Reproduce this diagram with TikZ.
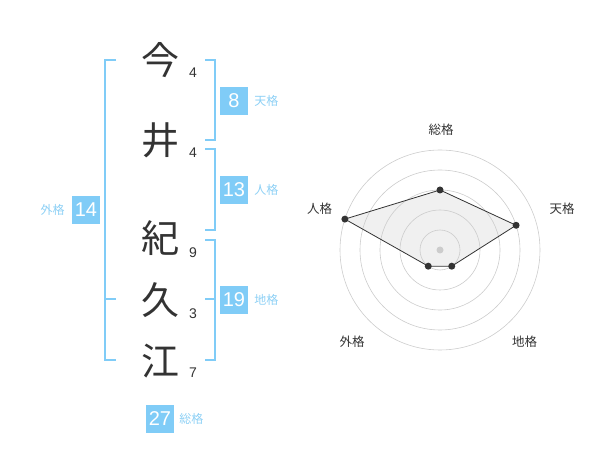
\documentclass[tikz,border=0pt]{standalone}
\usepackage{fontspec}
\setmainfont{Liberation Sans}
\newfontfamily\jp{Noto Sans CJK JP}
\usepackage{tikz}
\usepackage{xcolor}
\usetikzlibrary{
    calc,
    positioning
}
\definecolor{skyb}{HTML}{80CCF7}
\definecolor{labb}{HTML}{8DD0F5}
\definecolor{ink}{HTML}{333333}
\tikzset{
    kanji/.style={font=\jp\fontsize{38}{38}\selectfont, text=ink, inner sep=0pt},
    strokes/.style={font=\fontsize{14}{14}\selectfont, text=ink, inner sep=0pt},
    numbox/.style={fill=skyb, text=white, minimum size=28pt, inner sep=0pt, font=\fontsize{20}{20}\selectfont},
    kaku/.style={font=\jp\fontsize{12}{12}\selectfont, text=labb, inner sep=0pt},
    brk/.style={draw=skyb, line width=1.8pt},
    ring/.style={draw=black!20, line width=0.6pt},
    dot/.style={circle, fill=ink, inner sep=0pt, minimum size=7pt},
    axlabel/.style={font=\jp\fontsize{12.5}{12.5}\selectfont, text=ink, inner sep=0pt}
}
% right bracket: x, top, bottom
\newcommand{\rbrk}[3]{
    \draw[brk] ({#1-10}, #2) -- (#1, #2) -- (#1, #3) -- ({#1-10}, #3);
}

\begin{document}
\begin{tikzpicture}[x=1pt, y=-1pt]
    \useasboundingbox (0,0) rectangle (600,470);
    % name
    \node[kanji] (k1) at (160,60) {今};
    \node[kanji] (k2) at (160,140) {井};
    \node[kanji] (k3) at (160,238) {紀};
    \node[kanji] (k4) at (160,300) {久};
    \node[kanji] (k5) at (160,361) {江};
    \node[strokes] (s1) at (193,73) {4};
    \node[strokes] (s2) at (193,153) {4};
    \node[strokes] (s3) at (193,253) {9};
    \node[strokes] (s4) at (193,314) {3};
    \node[strokes] (s5) at (193,373) {7};
    % brackets
    \draw[brk] (116,60) -- (105,60) -- (105,360) -- (116,360) (105,299) -- (116,299);
    \rbrk{215}{60}{140}
    \rbrk{215}{149}{230}
    \rbrk{215}{240}{360}
    \draw[brk] (205,299) -- (215,299);
    % scores
    \node[numbox] (ten) at (234,101) {8};
    \node[kaku, right=6pt of ten] (tenl) {天格};
    \node[numbox] (jin) at (234,190) {13};
    \node[kaku, right=6pt of jin] (jinl) {人格};
    \node[numbox] (chi) at (234,300) {19};
    \node[kaku, right=6pt of chi] (chil) {地格};
    \node[numbox] (gai) at (86,210) {14};
    \node[kaku, left=7pt of gai] (gail) {外格};
    \node[numbox] (sou) at (160,419) {27};
    \node[kaku, right=5pt of sou] (soul) {総格};
    % radar
    \coordinate (c) at (440,250);
    \coordinate (psou) at ($(c)+(-90:60)$);
    \coordinate (pten) at ($(c)+(-18:80)$);
    \coordinate (pchi) at ($(c)+(54:20)$);
    \coordinate (pgai) at ($(c)+(126:20)$);
    \coordinate (pjin) at ($(c)+(198:100)$);
    \fill[black!6] (psou) -- (pten) -- (pchi) -- (pgai) -- (pjin) -- cycle;
    \foreach \r in {20,40,60,80,100}
        \draw[ring] (c) circle (\r pt);
    \fill[black!20] (c) circle (3.5pt);
    \draw[ink, line width=0.8pt] (psou) -- (pten) -- (pchi) -- (pgai) -- (pjin) -- cycle;
    \foreach \p in {psou, pten, pchi, pgai, pjin}
        \node[dot] (d\p) at (\p) {};
    \node[axlabel] (lsou) at ($(c)+(1,-120)$) {総格};
    \node[axlabel] (lten) at ($(c)+(122,-41)$) {天格};
    \node[axlabel] (ljin) at ($(c)+(-120.5,-41)$) {人格};
    \node[axlabel] (lgai) at ($(c)+(-88,92)$) {外格};
    \node[axlabel] (lchi) at ($(c)+(84.5,92)$) {地格};
\end{tikzpicture}
\end{document}
